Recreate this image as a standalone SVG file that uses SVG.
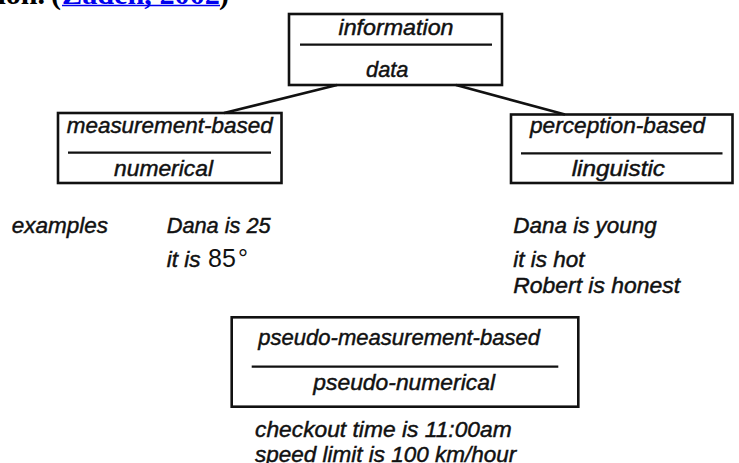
<svg xmlns="http://www.w3.org/2000/svg" width="739" height="463" viewBox="0 0 739 463">
<style>
.bx{fill:none;stroke:#111;stroke-width:2.6}
.dv{stroke:#111;stroke-width:2.2}
.cn{stroke:#111;stroke-width:2.6;fill:none}
.t{font-family:"Liberation Sans",Arial,sans-serif;font-style:italic;font-size:22.5px;fill:#111;stroke:#111;stroke-width:0.45}
.u{font-family:"Liberation Sans",Arial,sans-serif;font-size:25px;fill:#111}
.h{font-family:"Liberation Serif","Times New Roman",serif;font-weight:bold;font-size:30px;fill:#000}
.lk{fill:#0000ee}
</style>
<rect width="739" height="463" fill="#fff"/>
<g id="header">
<text class="h" x="45" y="4" text-anchor="end">tion.</text>
<text class="h" x="51" y="4">(</text>
<text class="h lk" x="62" y="4" textLength="158" lengthAdjust="spacingAndGlyphs">Zadeh, 2002</text>
<line x1="62" y1="5.5" x2="220" y2="5.5" stroke="#0000ee" stroke-width="1.6"/>
<text class="h" x="219" y="4">)</text>
</g>
<g id="connectors">
<line class="cn" x1="337" y1="85" x2="224" y2="113"/>
<line class="cn" x1="456" y1="85" x2="565" y2="114.5"/>
</g>
<g id="information">
<rect class="bx" x="289" y="14" width="213" height="71"/>
<line class="dv" x1="300" y1="44.7" x2="492" y2="44.7"/>
<text class="t" x="338.5" y="35" textLength="115" lengthAdjust="spacingAndGlyphs">information</text>
<text class="t" x="366" y="77" textLength="42.5" lengthAdjust="spacingAndGlyphs">data</text>
</g>
<g id="measurement">
<rect class="bx" x="58" y="113" width="223.5" height="70"/>
<line class="dv" x1="68" y1="152.7" x2="271" y2="152.7"/>
<text class="t" x="66.7" y="132.5" textLength="206" lengthAdjust="spacingAndGlyphs">measurement-based</text>
<text class="t" x="114" y="175.5" textLength="99" lengthAdjust="spacingAndGlyphs">numerical</text>
</g>
<g id="perception">
<rect class="bx" x="511" y="114.5" width="221.5" height="68.5"/>
<line class="dv" x1="521" y1="153.3" x2="722.5" y2="153.3"/>
<text class="t" x="530" y="133" textLength="175" lengthAdjust="spacingAndGlyphs">perception-based</text>
<text class="t" x="571.7" y="175.5" textLength="93.3" lengthAdjust="spacingAndGlyphs">linguistic</text>
</g>
<g id="examples">
<text class="t" x="11.7" y="233" textLength="96.3" lengthAdjust="spacingAndGlyphs">examples</text>
<text class="t" x="166.7" y="233" textLength="104" lengthAdjust="spacingAndGlyphs">Dana is 25</text>
<text class="t" x="166.7" y="266.5">it is</text>
<text class="u" x="208" y="266.5">85</text>
<text class="u" x="238" y="266.5" font-size="20">°</text>
<text class="t" x="513.3" y="233" textLength="143.4" lengthAdjust="spacingAndGlyphs">Dana is young</text>
<text class="t" x="513.3" y="266.5">it is hot</text>
<text class="t" x="513.3" y="293.3" textLength="166.7" lengthAdjust="spacingAndGlyphs">Robert is honest</text>
</g>
<g id="pseudo">
<rect class="bx" x="231.7" y="317.3" width="346.6" height="89.4"/>
<line class="dv" x1="251.7" y1="366.7" x2="558.3" y2="366.7"/>
<text class="t" x="258.3" y="345" textLength="281.7" lengthAdjust="spacingAndGlyphs">pseudo-measurement-based</text>
<text class="t" x="313.3" y="390" textLength="181.7" lengthAdjust="spacingAndGlyphs">pseudo-numerical</text>
</g>
<g id="pseudo-examples">
<text class="t" x="255" y="436.7" textLength="256.7" lengthAdjust="spacingAndGlyphs">checkout time is 11:00am</text>
<text class="t" x="255" y="462">speed limit is 100 km/hour</text>
</g>
</svg>
